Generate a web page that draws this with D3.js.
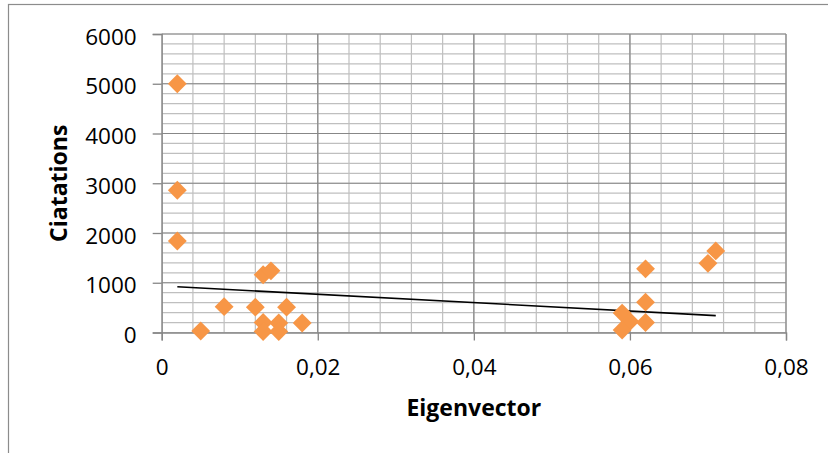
<!DOCTYPE html>
<html>
<head>
<meta charset="utf-8">
<script src="https://cdnjs.cloudflare.com/ajax/libs/d3/7.8.5/d3.min.js"></script>
<style>
    body { margin: 0; background: #fff; }
    .chart text { font-family: "Open Sans", sans-serif; fill: #000; }
</style>
</head>
<body>
<div class="chart"></div>
<script>
// data
var eigenvector = [0.002, 0.002, 0.002, 0.005, 0.008, 0.012, 0.013, 0.014, 0.013, 0.013,
    0.015, 0.015, 0.016, 0.018, 0.059, 0.060, 0.059, 0.062, 0.062, 0.062, 0.070, 0.071];
var citations = [5000, 2860, 1840, 30, 520, 510, 1160, 1240, 200, 20,
    190, 20, 510, 190, 390, 220, 50, 1280, 610, 200, 1390, 1640];
var trendX = [0.002, 0.071];
var trendY = [920, 340];
var xTicks = [0, 0.02, 0.04, 0.06, 0.08];
var yTicks = [0, 1000, 2000, 3000, 4000, 5000, 6000];
var xMinorStep = 0.004;
var yMinorStep = 200;

var W = 828, H = 453;
var margin = {
    top: 34,
    right: 42,
    bottom: 120.5,
    left: 161.7
};
var width = W - margin.left - margin.right;
var height = H - margin.top - margin.bottom;

var root = d3.select('.chart')
    .append('svg')
    .attr('width', W)
    .attr('height', H);

// outer chart border
root.append('rect')
    .attr('x', 8.5)
    .attr('y', 4.5)
    .attr('width', 840)
    .attr('height', 470)
    .style('fill', 'none')
    .style('stroke', '#8c8c8c')
    .style('stroke-width', 1.2);

var svg = root.append('g')
    .attr('transform', 'translate(' + margin.left + ', ' + margin.top + ')');

var xScale = d3.scaleLinear()
    .domain([xTicks[0], xTicks[xTicks.length - 1]])
    .range([0, width]);
var yScale = d3.scaleLinear()
    .domain([yTicks[0], yTicks[yTicks.length - 1]])
    .range([height, 0]);

var locale = d3.formatLocale({ decimal: ',', thousands: '.', grouping: [3], currency: ['', ''] });
var fmtX = d => d === 0 ? '0' : locale.format('.2f')(d);

// minor grid
var xMinor = d3.range(0, xScale.domain()[1] + 1e-9, xMinorStep);
var yMinor = d3.range(0, yScale.domain()[1] + 1e-9, yMinorStep);
svg.append('g').selectAll('line')
    .data(xMinor).enter().append('line')
    .attr('x1', d => xScale(d)).attr('x2', d => xScale(d))
    .attr('y1', 0).attr('y2', height)
    .style('stroke', '#bfbfbf').style('stroke-width', 1.2);
svg.append('g').selectAll('line')
    .data(yMinor).enter().append('line')
    .attr('x1', 0).attr('x2', width)
    .attr('y1', d => yScale(d)).attr('y2', d => yScale(d))
    .style('stroke', '#bfbfbf').style('stroke-width', 1.2);

// major grid
svg.append('g').selectAll('line')
    .data(xTicks.slice(1)).enter().append('line')
    .attr('x1', d => xScale(d)).attr('x2', d => xScale(d))
    .attr('y1', 0).attr('y2', height)
    .style('stroke', '#878787').style('stroke-width', 1.2);
svg.append('g').selectAll('line')
    .data(yTicks.slice(1)).enter().append('line')
    .attr('x1', 0).attr('x2', width)
    .attr('y1', d => yScale(d)).attr('y2', d => yScale(d))
    .style('stroke', '#878787').style('stroke-width', 1.2);

// axes
var xAxis = d3.axisBottom(xScale).tickValues(xTicks).tickFormat(fmtX).tickSize(8).tickPadding(17);
var yAxis = d3.axisLeft(yScale).tickValues(yTicks).tickFormat(d3.format('d')).tickSize(9).tickPadding(16);

var gx = svg.append('g')
    .attr('transform', `translate(0, ${height})`)
    .call(xAxis);
var gy = svg.append('g').call(yAxis);

[gx, gy].forEach(g => {
    g.selectAll('.domain').style('stroke', '#868686').style('stroke-width', 1.3);
    g.selectAll('.tick line').style('stroke', '#868686').style('stroke-width', 1.3);
    g.selectAll('.tick text')
        .style('font-family', '"Open Sans", sans-serif')
        .style('font-size', '22.5px')
        .style('fill', '#000');
});
gy.selectAll('.tick text').attr('dy', '0.45em');
gx.selectAll('.tick text').attr('dy', '0.78em');

// trend line
var line = d3.line()
    .x(d => xScale(d[0]))
    .y(d => yScale(d[1]));
svg.append('path')
    .datum(d3.zip(trendX, trendY))
    .attr('d', line)
    .style('fill', 'none')
    .style('stroke', '#000')
    .style('stroke-width', 1.6);

// points
var diamond = d3.symbol().type(d3.symbolSquare).size(178);
svg.selectAll('.pt')
    .data(d3.zip(eigenvector, citations))
    .enter()
    .append('path')
    .attr('class', 'pt')
    .attr('d', diamond)
    .attr('transform', d => `translate(${xScale(d[0])}, ${yScale(d[1])}) rotate(45)`)
    .style('fill', '#f79646');

// axis titles
svg.append('text')
    .attr('x', width / 2)
    .attr('y', height + 83.5)
    .style('text-anchor', 'middle')
    .style('font-weight', 'bold')
    .style('font-size', '23px')
    .text('Eigenvector');

svg.append('text')
    .attr('transform', `translate(${67 - margin.left}, ${height / 2}) rotate(-90)`)
    .style('text-anchor', 'middle')
    .style('font-weight', 'bold')
    .style('font-size', '23px')
    .text('Ciatations');
</script>
</body>
</html>
